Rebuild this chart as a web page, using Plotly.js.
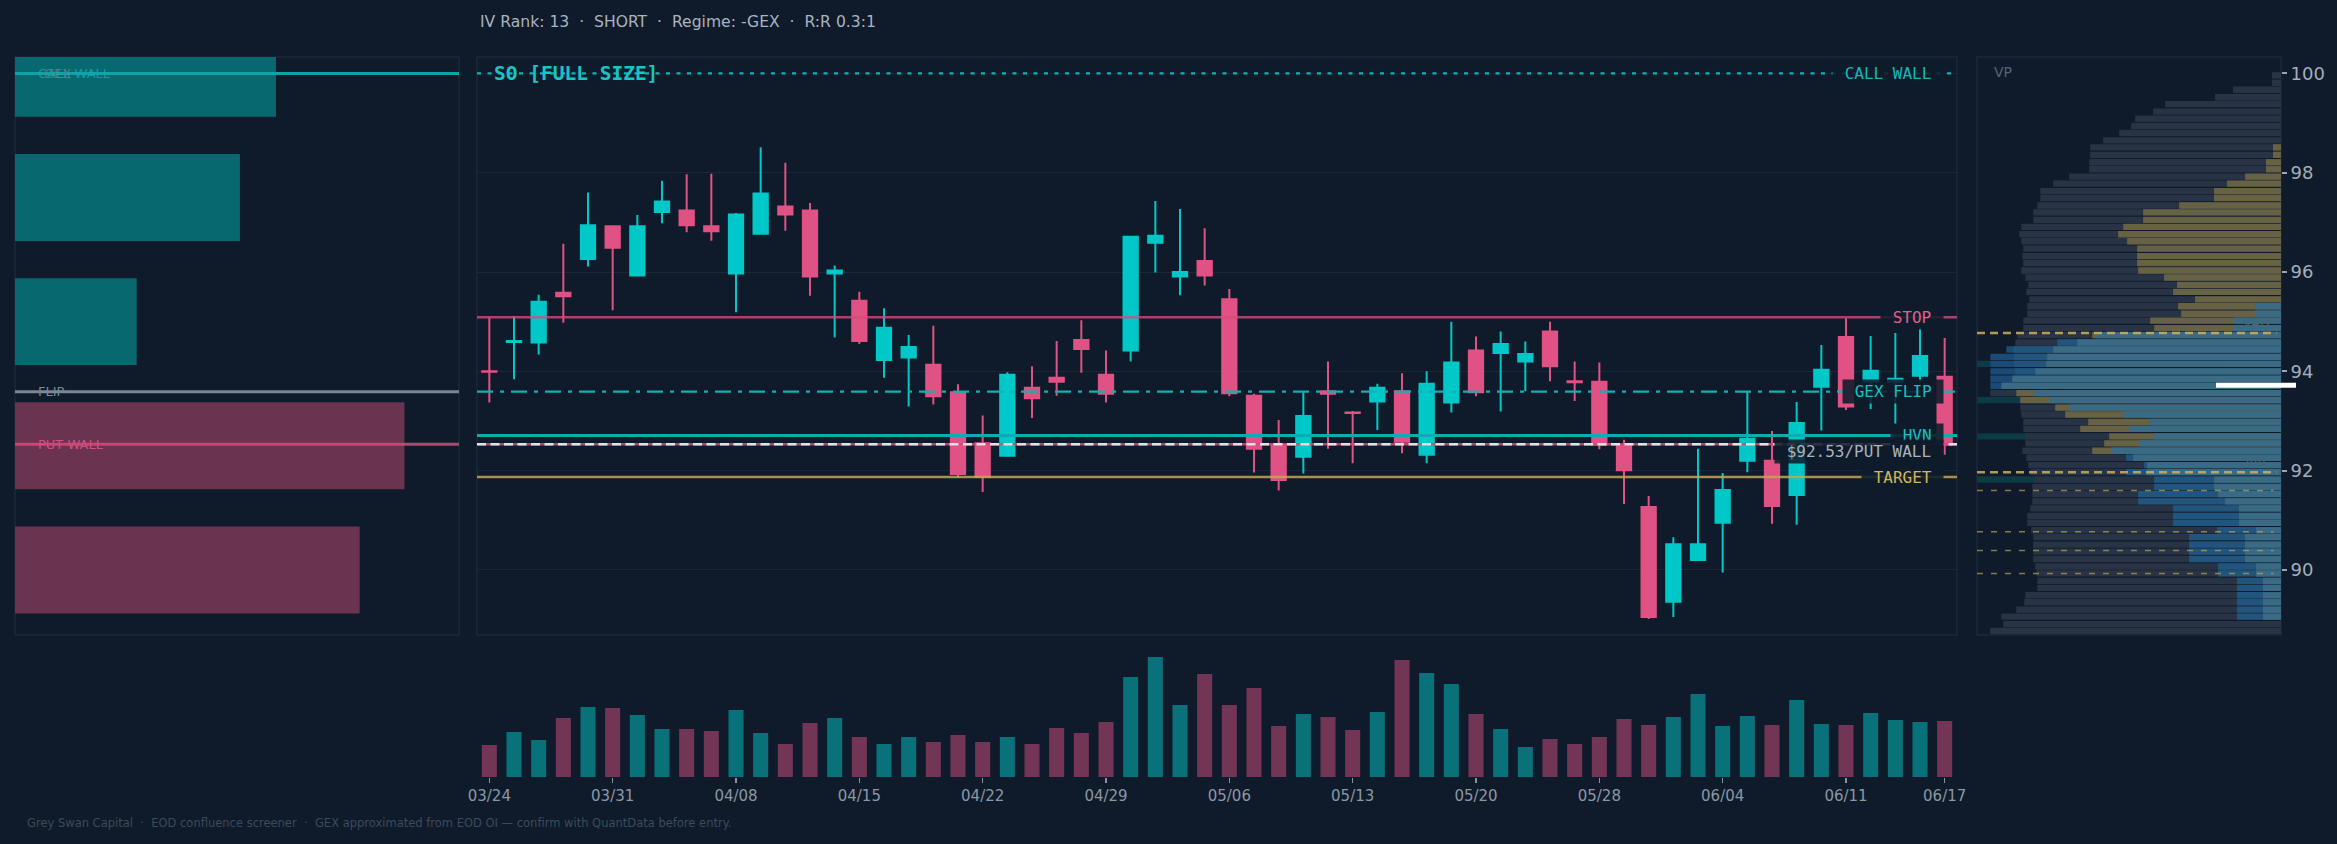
<!DOCTYPE html>
<html>
<head>
<meta charset="utf-8">
<script src="https://cdn.plot.ly/plotly-3.0.1.min.js"></script>
<style>html,body{margin:0;padding:0;background:#0f1b2a;}#chart{width:2337px;height:844px;}</style>
</head>
<body>
<div id="chart"></div>
<script>
// ---------------- DATA ----------------
const dates = ['03/24','03/25','03/26','03/27','03/28','03/31','04/01','04/02','04/03','04/04',
  '04/08','04/09','04/10','04/11','04/14','04/15','04/16','04/17','04/18','04/21',
  '04/22','04/23','04/24','04/25','04/28','04/29','04/30','05/01','05/02','05/05',
  '05/06','05/07','05/08','05/09','05/12','05/13','05/14','05/15','05/16','05/19',
  '05/20','05/21','05/22','05/23','05/27','05/28','05/29','05/30','06/02','06/03',
  '06/04','06/05','06/06','06/09','06/10','06/11','06/12','06/13','06/16','06/17'];
const opens  = [94.00,94.59,94.58,95.58,96.26,96.92,95.93,97.21,97.24,96.92,
  95.97,96.77,97.32,97.24,95.97,95.42,94.23,94.28,94.13,93.58,
  92.55,92.30,93.67,93.87,94.63,93.93,94.42,96.59,95.91,96.22,
  95.45,93.51,92.52,92.28,93.60,93.17,93.39,93.60,92.32,93.37,
  94.42,94.37,94.20,94.80,93.80,93.79,92.50,91.27,89.36,90.20,
  90.95,92.20,92.20,91.51,93.69,94.69,93.79,93.79,93.91,93.89];
const highs  = [95.08,95.11,95.54,96.57,97.60,96.94,97.15,97.84,97.97,97.98,
  97.19,98.51,98.20,97.39,96.13,95.60,95.27,94.73,94.92,93.74,
  93.11,93.98,94.10,94.61,95.03,94.42,96.72,97.43,97.27,96.88,
  95.66,93.55,93.02,93.58,94.20,93.20,93.75,93.96,94.00,95.00,
  94.70,94.80,94.60,95.00,94.20,94.18,92.62,91.49,90.66,92.44,
  91.95,93.59,92.80,93.38,94.53,95.07,94.71,94.77,94.89,94.67];
const lows   = [93.37,93.84,94.34,94.98,96.11,95.23,95.91,96.98,96.80,96.63,
  95.19,96.76,96.83,95.52,94.68,94.55,93.87,93.29,93.33,91.87,
  91.57,92.28,93.06,93.51,93.97,93.37,94.20,95.99,95.53,95.73,
  93.50,91.96,91.60,91.94,92.44,92.15,92.82,92.35,92.15,93.17,
  93.50,93.19,93.60,93.80,93.40,92.43,91.33,89.01,89.05,90.18,
  89.95,91.97,90.93,90.91,92.81,93.22,93.24,92.93,93.79,92.32];
const closes = [93.99,94.61,95.40,95.51,96.94,96.49,96.92,97.42,96.94,96.82,
  97.16,97.58,97.16,95.91,96.03,94.61,94.88,94.49,93.50,91.93,
  91.87,93.93,93.46,93.79,94.45,93.55,96.71,96.73,96.00,95.93,
  93.56,92.44,91.81,93.10,93.55,93.16,93.67,92.58,93.75,94.18,
  93.58,94.55,94.35,94.10,93.78,92.52,92.01,89.05,90.52,90.52,
  91.61,92.64,91.29,92.96,94.03,93.29,94.01,93.85,94.31,92.52];
const volumes = [3.2,4.5,3.7,5.9,7.0,6.9,6.2,4.8,4.8,4.6,
  6.7,4.4,3.3,5.4,5.9,4.0,3.3,4.0,3.5,4.2,
  3.5,4.0,3.3,4.9,4.4,5.5,10.0,12.0,7.2,10.3,
  7.2,8.9,5.1,6.3,6.0,4.7,6.5,11.7,10.4,9.3,
  6.3,4.8,3.0,3.8,3.3,4.0,5.8,5.2,6.0,8.3,
  5.1,6.1,5.2,7.7,5.3,5.2,6.4,5.7,5.5,5.6];
const tickDates = ['03/24','03/31','04/08','04/15','04/22','04/29','05/06','05/13','05/20','05/28','06/04','06/11','06/17'];

// GEX by strike (sign = call/put side)
const gexStrikes = [90, 92.5, 95, 97.5, 100];
const gexValues  = [-3.54, -4.00, 1.25, 2.31, 2.68];

// Key levels
const callWall = 100.00, stopLevel = 95.09, gexFlip = 93.59, hvnLevel = 92.71;
const putWall = 92.53, lastPrice = 92.53, targetLevel = 91.87;
const vah = 94.77, val = 91.97;
const vpMinorLevels = [91.60, 90.77, 90.39, 89.93];
const hvnNodes = [94.15, 93.42, 92.69, 91.82];
const vpMarker = 93.72;
const priceTicks = [90, 92, 94, 96, 98, 100];
const titleText = 'IV Rank: 13 \u00a0·\u00a0 SHORT \u00a0·\u00a0 Regime: -GEX \u00a0·\u00a0 R:R 0.3:1';
const chartName = 'SO [FULL SIZE]';
const footerText = 'Grey Swan Capital \u00a0·\u00a0 EOD confluence screener \u00a0·\u00a0 GEX approximated from EOD OI — confirm with QuantData before entry.';

// Volume profile
const vpPrice = [99.96,99.81,99.67,99.52,99.38,99.23,99.09,98.94,98.80,98.65,
  98.51,98.36,98.21,98.07,97.92,97.78,97.63,97.49,97.34,97.20,
  97.05,96.91,96.76,96.62,96.47,96.32,96.18,96.03,95.89,95.74,
  95.60,95.45,95.31,95.16,95.02,94.87,94.73,94.58,94.44,94.29,
  94.15,94.00,93.85,93.71,93.56,93.42,93.27,93.13,92.98,92.84,
  92.69,92.55,92.40,92.26,92.11,91.97,91.82,91.67,91.53,91.38,
  91.24,91.09,90.95,90.80,90.66,90.51,90.37,90.22,90.07,89.93,
  89.78,89.64,89.49,89.35,89.20,89.06,88.91,88.77];
const vpTotal = [2.7,2.7,14.4,19.8,34.8,38.4,43.8,45.0,48.6,53.4,
  57.3,57.3,57.6,57.6,63.6,68.4,72.3,72.3,73.2,74.4,
  74.4,78.0,78.6,78.0,77.4,77.7,77.4,78.0,76.8,75.9,
  76.5,75.6,76.2,76.2,77.4,77.4,79.2,79.8,82.5,87.3,
  87.3,87.3,87.3,87.3,87.3,78.3,78.3,78.0,77.4,77.4,
  76.8,76.8,77.7,76.5,75.9,75.3,74.1,74.7,74.7,74.7,
  75.3,76.2,76.2,75.0,74.4,74.4,74.4,74.4,73.8,73.5,
  73.2,73.2,76.8,77.1,79.5,84.0,83.4,87.3];
const vpUpper = [0,0,0,0,0,0,0,0,0,0,
  2.4,2.4,4.5,4.5,10.8,16.2,20.1,20.1,30.6,41.4,
  41.4,47.4,48.9,46.2,43.2,43.2,43.2,42.9,35.1,31.2,
  32.4,25.8,30.9,30.0,39.3,38.1,56.7,0,0,0,
  0,0,0,0,79.5,78.3,67.8,64.8,57.9,60.3,
  51.6,53.1,56.7,0,0,0,0,0,0,0,
  0,0,0,0,0,0,0,0,0,0,
  0,0,0,0,0,0,0,0];
const vpLower = [0,0,0,0,0,0,0,0,0,0,
  0,0,0,0,0,0,0,0,0,0,
  0,0,0,0,0,0,0,0,0,0,
  0,0,0,0,0,0,0,67.2,80.4,80.1,
  80.1,79.8,0,0,0,0,0,0,0,0,
  0,0,0,46.5,41.1,46.5,38.1,38.1,42.9,42.9,
  32.4,32.4,32.4,19.2,27.6,27.6,27.6,27.6,18.9,18.9,
  13.2,13.2,13.2,13.2,13.2,13.2,0,0];
const vpValueArea = [0,0,0,0,0,0,0,0,0,0,
  0,0,0,0,0,0,0,0,0,0,
  0,0,0,0,0,0,0,0,0,0,
  0,0,7.8,7.8,14.1,14.1,55.5,61.2,68.4,70.2,
  70.5,73.8,80.7,84.0,74.1,69.6,63.6,47.4,39.4,45.6,
  38.1,42.6,51.0,44.4,40.2,40.3,20.1,20.1,18.9,16.8,
  12.6,12.6,12.6,7.5,10.8,10.8,10.8,10.8,7.5,7.5,
  5.4,5.4,5.4,5.4,5.4,5.4,0,0];

// ---------------- STYLE / LAYOUT ----------------
const W = 2337, H = 844;
const BG = '#0f1b2a';
const TEAL = '#00c8c8', PINK = '#e05283';
const px = v => v / W;            // pixel -> paper x
const py = v => 1 - v / H;        // pixel -> paper y
const Y_RANGE = [88.69, 100.33];
const yDom = [py(635), py(57)];
const leftDom = [px(15), px(459)];
const mainDom = [px(477), px(1957)];
const vpDom = [px(1977), px(2281)];
const volDom = [py(777), py(650)];

const volColors = closes.map((c, i) => c > opens[i] ? '#08717a' : '#733555');
const gexColors = gexValues.map(v => v >= 0 ? '#08686f' : '#6a3350');
const vpOuterColors = vpPrice.map(p => (p > 93.65 && p < 94.52) ? '#1c4a76' : '#283445');
const VPW = 0.128;

const traces = [
  { type: 'bar', orientation: 'h', x: gexValues.map(Math.abs), y: gexStrikes, width: 1.75,
    marker: { color: gexColors }, xaxis: 'x', yaxis: 'y', hoverinfo: 'skip' },
  { type: 'candlestick', x: dates, open: opens, high: highs, low: lows, close: closes,
    xaxis: 'x2', yaxis: 'y2', whiskerwidth: 0,
    increasing: { line: { color: TEAL, width: 2 }, fillcolor: TEAL },
    decreasing: { line: { color: PINK, width: 2 }, fillcolor: PINK }, hoverinfo: 'skip' },
  { type: 'bar', orientation: 'h', x: vpTotal, y: vpPrice, width: VPW,
    marker: { color: vpOuterColors }, xaxis: 'x3', yaxis: 'y3', hoverinfo: 'skip' },
  { type: 'bar', orientation: 'h', x: vpUpper, y: vpPrice, width: VPW,
    marker: { color: '#686245' }, xaxis: 'x3', yaxis: 'y3', hoverinfo: 'skip' },
  { type: 'bar', orientation: 'h', x: vpLower, y: vpPrice, width: VPW,
    marker: { color: '#22557e' }, xaxis: 'x3', yaxis: 'y3', hoverinfo: 'skip' },
  { type: 'bar', orientation: 'h', x: vpValueArea, y: vpPrice, width: VPW,
    marker: { color: '#3b6a85' }, xaxis: 'x3', yaxis: 'y3', hoverinfo: 'skip' },
  { type: 'bar', x: dates, y: volumes, marker: { color: volColors },
    xaxis: 'x4', yaxis: 'y4', hoverinfo: 'skip' }
];

const shapes = [];
// panel borders
[[15, 459], [477, 1957], [1977, 2281]].forEach(([a, b]) => {
  shapes.push({ type: 'rect', xref: 'paper', yref: 'paper', x0: px(a), x1: px(b), y0: py(635), y1: py(57),
    line: { color: '#1c2838', width: 1.5 }, fillcolor: 'rgba(0,0,0,0)', layer: 'below' });
});
function hline(xref, yref, y, color, width, dash, x0, x1) {
  shapes.push({ type: 'line', xref: xref, yref: yref, x0: x0 === undefined ? 0 : x0, x1: x1 === undefined ? 1 : x1,
    y0: y, y1: y, line: { color: color, width: width, dash: dash || 'solid' } });
}
// left panel levels
hline('x domain', 'y', callWall, '#0fa3a8', 3);
hline('x domain', 'y', gexFlip, '#7a8797', 3);
hline('x domain', 'y', putWall, 'rgba(214,74,122,0.85)', 3);
// main panel levels
hline('x2 domain', 'y2', callWall, '#10b2b6', 2.2, '4px,6.5px');
hline('x2 domain', 'y2', stopLevel, 'rgba(214,76,124,0.78)', 2.5);
hline('x2 domain', 'y2', gexFlip, '#12b0b3', 2.2, '16px,7px,4px,7px');
hline('x2 domain', 'y2', hvnLevel, '#0aaeb2', 3);
hline('x2 domain', 'y2', putWall, 'rgba(214,74,122,0.85)', 2.5);
hline('x2 domain', 'y2', lastPrice, 'rgba(236,236,242,0.92)', 2.5, '9px,4.5px');
hline('x2 domain', 'y2', targetLevel, 'rgba(196,166,84,0.85)', 2.5);
// VP levels
hvnNodes.forEach(p => shapes.push({ type: 'rect', xref: 'x3 domain', yref: 'y3', x0: 0, x1: 1,
  y0: p - 0.065, y1: p + 0.065, line: { width: 0 }, fillcolor: '#0c3a45', layer: 'below' }));
hline('x3 domain', 'y3', vah, 'rgba(206,176,96,0.85)', 2.5, '8px,5px', 0, 0.985);
hline('x3 domain', 'y3', val, 'rgba(206,176,96,0.85)', 2.5, '8px,5px', 0, 0.985);
vpMinorLevels.forEach(p => hline('x3 domain', 'y3', p, 'rgba(190,160,90,0.7)', 1.5, '6px,8px', 0, 0.975));
shapes.push({ type: 'line', xref: 'paper', yref: 'y3', x0: px(2216), x1: px(2296), y0: vpMarker, y1: vpMarker,
  line: { color: '#ffffff', width: 5 } });

const annotations = [];
function ann(o) { annotations.push(Object.assign({ showarrow: false }, o)); }
// header / footer
ann({ xref: 'paper', yref: 'paper', x: px(478), y: py(22), xanchor: 'left', yanchor: 'middle', text: titleText,
  font: { family: 'DejaVu Sans', size: 15.6, color: '#a9b3c1' } });
ann({ xref: 'paper', yref: 'paper', x: px(25), y: py(823), xanchor: 'left', yanchor: 'middle', text: footerText,
  font: { family: 'DejaVu Sans', size: 11.5, color: '#3d4a5a' } });
// left panel labels (overlapping in the original)
ann({ xref: 'paper', yref: 'y', x: px(36), y: callWall, xanchor: 'left', yanchor: 'middle', text: 'CALL WALL',
  font: { family: 'DejaVu Sans', size: 13, color: 'rgba(22,170,175,0.8)' } });
ann({ xref: 'paper', yref: 'y', x: px(42), y: callWall, xanchor: 'left', yanchor: 'middle', text: 'GEX',
  font: { family: 'DejaVu Sans', size: 13, color: 'rgba(110,124,140,0.8)' } });
ann({ xref: 'paper', yref: 'y', x: px(36), y: gexFlip, xanchor: 'left', yanchor: 'middle', text: 'FLIP',
  font: { family: 'DejaVu Sans', size: 13, color: '#7d8896' } });
ann({ xref: 'paper', yref: 'y', x: px(36), y: putWall, xanchor: 'left', yanchor: 'middle', text: 'PUT WALL',
  font: { family: 'DejaVu Sans', size: 13, color: '#d0507e' } });
// main chart title
ann({ xref: 'paper', yref: 'y2', x: px(492), y: callWall, xanchor: 'left', yanchor: 'middle', text: '<b>' + chartName + '</b>',
  font: { family: 'DejaVu Sans Mono', size: 19.5, color: '#19c4c4' } });
// right-side level labels
const LBOX = 'rgba(15,27,42,0.88)';
function levelLabel(text, y, color, yshift) {
  ann({ xref: 'paper', yref: 'y2', x: px(1944), y: y, xanchor: 'right', yanchor: 'middle', yshift: yshift || 0,
    text: '\u00a0' + text + '\u00a0', bgcolor: LBOX, borderpad: 2,
    font: { family: 'DejaVu Sans Mono', size: 16, color: color } });
}
levelLabel('CALL WALL', callWall, '#16b8bb');
levelLabel('STOP', stopLevel, '#e0608e');
levelLabel('GEX FLIP', gexFlip, '#18c0c2');
levelLabel('HVN', hvnLevel, '#18c0c2');
levelLabel('$' + lastPrice.toFixed(2) + '/PUT WALL', putWall, '#aab3bf', -7);
levelLabel('TARGET', targetLevel, '#d2b45e');
// VP labels
ann({ xref: 'paper', yref: 'paper', x: px(1992), y: py(72), xanchor: 'left', yanchor: 'middle', text: 'VP',
  font: { family: 'DejaVu Sans', size: 14, color: '#566474' } });
ann({ xref: 'paper', yref: 'y3', x: px(2272), y: vah, xanchor: 'right', yanchor: 'bottom', yshift: 1, text: 'VAH',
  font: { family: 'DejaVu Sans', size: 13, color: '#436678' } });
ann({ xref: 'paper', yref: 'y3', x: px(2272), y: val, xanchor: 'right', yanchor: 'bottom', yshift: 1, text: 'VAL',
  font: { family: 'DejaVu Sans', size: 13, color: '#436678' } });

const layout = {
  width: W, height: H, margin: { l: 0, r: 0, t: 0, b: 0 },
  paper_bgcolor: BG, plot_bgcolor: BG, showlegend: false,
  barmode: 'overlay', bargap: 0.39, boxgap: 0.42, boxgroupgap: 0,
  font: { family: 'DejaVu Sans', color: '#a9b3c1' },
  xaxis: { domain: leftDom, range: [0, 4.56], visible: false, fixedrange: true },
  yaxis: { domain: yDom, range: Y_RANGE, visible: false, fixedrange: true },
  xaxis2: { domain: mainDom, anchor: 'y2', type: 'category', range: [-0.5, 59.5], showticklabels: false,
    showgrid: false, zeroline: false, ticks: '', rangeslider: { visible: false } },
  yaxis2: { domain: yDom, anchor: 'x2', range: Y_RANGE, tickvals: priceTicks, showticklabels: false,
    gridcolor: '#1b2737', gridwidth: 1, zeroline: false, ticks: '' },
  xaxis3: { domain: vpDom, anchor: 'y3', range: [91.3, 0], visible: false },
  yaxis3: { domain: yDom, anchor: 'x3', range: Y_RANGE, side: 'right', tickvals: priceTicks,
    ticks: 'outside', ticklen: 5, tickwidth: 2, tickcolor: '#9aa5b4', showgrid: false, zeroline: false,
    tickfont: { family: 'DejaVu Sans', size: 18, color: '#a3aebb' } },
  xaxis4: { domain: mainDom, anchor: 'y4', type: 'category', range: [-0.5, 59.5], tickvals: tickDates,
    ticks: 'outside', ticklen: 5, tickwidth: 1.5, tickcolor: '#8792a2', showgrid: false, zeroline: false,
    tickfont: { family: 'DejaVu Sans', size: 15, color: '#8c97a6' } },
  yaxis4: { domain: volDom, anchor: 'x4', range: [0, 12.7], visible: false },
  shapes: shapes, annotations: annotations
};

Plotly.newPlot('chart', traces, layout, { staticPlot: true, displayModeBar: false });
</script>
</body>
</html>
